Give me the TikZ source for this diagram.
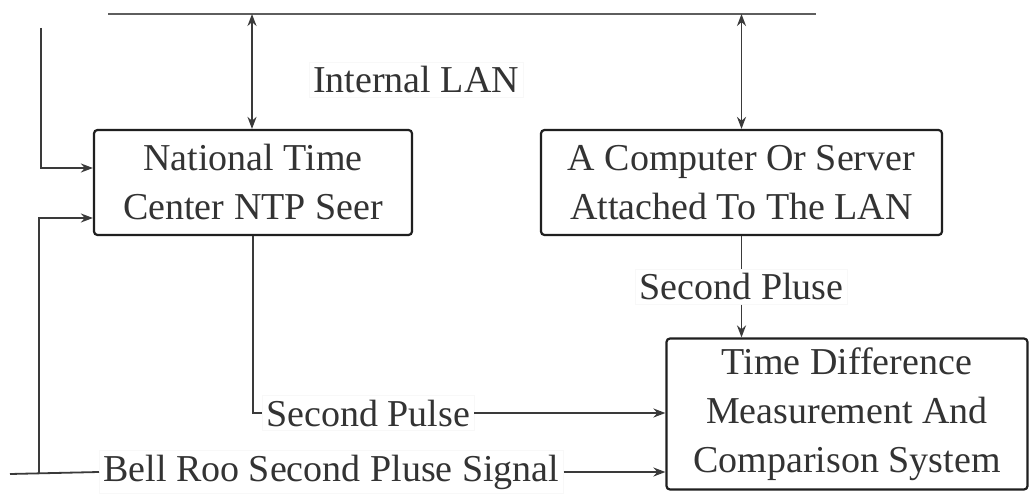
\documentclass[tikz,border=0pt]{standalone}
\usepackage{fontspec}
\setmainfont{Liberation Serif}
\usetikzlibrary{arrows.meta,calc}
\definecolor{ink}{HTML}{333333}
\definecolor{wirec}{HTML}{3A3A3A}
\definecolor{lanc}{HTML}{5E5E5E}
\definecolor{halo}{HTML}{F8F8F8}
\begin{document}
\begin{tikzpicture}[x=1pt,y=-1pt,
  box/.style={draw=black!88, line width=2.2pt, rounded corners=3.5pt, fill=white,
    align=center, text=ink, inner sep=0pt, font=\fontsize{38}{49}\selectfont},
  lbl/.style={fill=white, draw=halo, line width=0.5pt, text=ink, inner sep=4pt,
    font=\fontsize{38}{46}\selectfont},
  wire/.style={draw=wirec, line width=1.8pt},
  arr/.style={wire, -{Stealth[length=12pt,width=9pt]}},
  darr/.style={wire, {Stealth[length=12pt,width=9pt]}-{Stealth[length=12pt,width=9pt]}}]
\useasboundingbox (0,0) rectangle (1030,494);
\fill[white] (0,0) rectangle (1030,494);

% boxes
\node[box, minimum width=318pt, minimum height=105pt] (ntp) at (253,182.5)
  {National Time\\Center NTP Seer};
\node[box, minimum width=401pt, minimum height=105pt] (pc) at (741.5,182.5)
  {A Computer Or Server\\Attached To The LAN};
\node[box, minimum width=361pt, minimum height=151pt] (tdm) at (847,414)
  {Time Difference\\Measurement And\\Comparison System};

% internal LAN bus
\coordinate (lanL) at (108,14);
\coordinate (lanR) at (816,14);
\draw[wire, draw=lanc] (lanL) -- (lanR);
\coordinate (lanA) at (252,14);
\coordinate (lanB) at (741.5,14);
\draw[darr] (lanA) -- (lanA |- ntp.north);
\draw[darr] (lanB) -- (lanB |- pc.north);
\node[lbl, anchor=base] (lanlbl) at (416,93) {Internal LAN};

% inputs on the left of the NTP server
\coordinate (inA) at (41,28);
\coordinate (yA) at (0,168);
\coordinate (yB) at (0,218);
\draw[arr] (inA) |- (ntp.west |- yA);

% bell room second pulse signal
\coordinate (bellS) at (10,474);
\coordinate (bellT) at (39,474);
\node[lbl, anchor=west] (bell) at (99,472) {Bell Roo Second Pluse Signal};
\draw[wire] (bellS) -- (bell.west);
\draw[arr] (bell.east) -- (tdm.west |- bell.east);
\draw[arr] (bellT) |- (ntp.west |- yB);

% NTP server second pulse
\node[lbl, anchor=west] (sp) at (262,413) {Second Pulse};
\draw[wire] (ntp.south) |- (sp.west);
\draw[arr] (sp.east) -- (tdm.west |- sp.east);

% computer second pulse
\node[lbl] (sp2) at (741.5,287) {Second Pluse};
\draw[wire] (pc.south) -- (pc.south |- sp2.north);
\draw[arr] (pc.south |- sp2.south) -- (pc.south |- tdm.north);
\end{tikzpicture}
\end{document}
